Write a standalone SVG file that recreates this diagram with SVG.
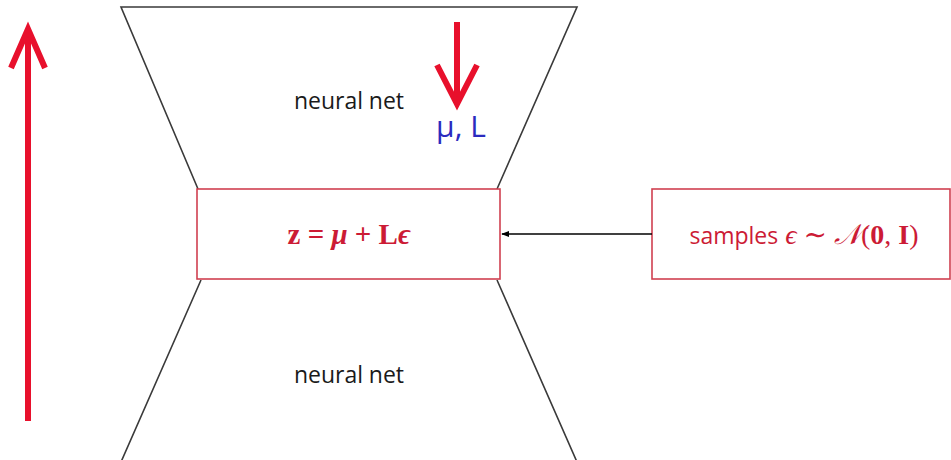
<svg xmlns="http://www.w3.org/2000/svg" width="951" height="460" viewBox="0 0 951 460">
<style>
.edge{fill:none;stroke:#3a3a3a;stroke-width:1.6}
.box{fill:#fff;stroke:#d04050;stroke-width:1.6}
.lbl{font-family:"Open Sans","Noto Sans",sans-serif;font-size:23px;fill:#1a1a1a}
.math{font-family:"Liberation Serif","DejaVu Serif",serif;fill:#cc1b35}
.red{fill:none;stroke:#e8102c;stroke-width:6;stroke-linecap:butt;stroke-linejoin:miter}
</style>
<defs>
<marker id="ah" viewBox="0 0 10 10" refX="9" refY="5" markerWidth="8" markerHeight="8" markerUnits="userSpaceOnUse" orient="auto">
<path d="M0,1 L10,5 L0,9 z" fill="#000"/>
</marker>
</defs>
<rect width="951" height="460" fill="#fff"/>
<g id="encoder">
<path class="edge" d="M198,189 L121,7 L577,7 L497,189"/>
<text class="lbl" x="349" y="109" text-anchor="middle" textLength="110">neural net</text>
</g>
<g id="decoder">
<path class="edge" d="M201,280 L121,462 M497,280 L577,462"/>
<text class="lbl" x="349" y="383" text-anchor="middle" textLength="110">neural net</text>
</g>
<g id="reparam">
<rect class="box" x="197" y="189" width="303" height="90"/>
<text class="math" x="349" y="244" text-anchor="middle" font-size="29" font-weight="bold">z = <tspan font-style="italic">μ</tspan> + L<tspan font-style="italic">ϵ</tspan></text>
</g>
<g id="samples">
<rect class="box" x="652" y="189" width="298" height="90"/>
<text class="math" x="804" y="244" text-anchor="middle" font-size="28"><tspan font-family="Open Sans, sans-serif" font-size="23">samples</tspan> <tspan font-style="italic">ϵ</tspan> ∼ <tspan font-style="italic">𝒩</tspan>(<tspan font-weight="bold">0</tspan>, <tspan font-weight="bold">I</tspan>)</text>
</g>
<g id="mu-L">
<path class="red" d="M457,22 V104"/>
<path class="red" d="M437,65 L457,104 L477,65"/>
<text x="461" y="137" text-anchor="middle" font-family="Open Sans,sans-serif" font-size="30" fill="#2b2bbf">μ, L</text>
</g>
<g id="connectors">
<line x1="652" y1="234" x2="502" y2="234" stroke="#000" stroke-width="1.3" marker-end="url(#ah)"/>
<path class="red" d="M28,421 V29"/>
<path class="red" d="M11,68 L28,29 L45,68"/>
</g>
</svg>
